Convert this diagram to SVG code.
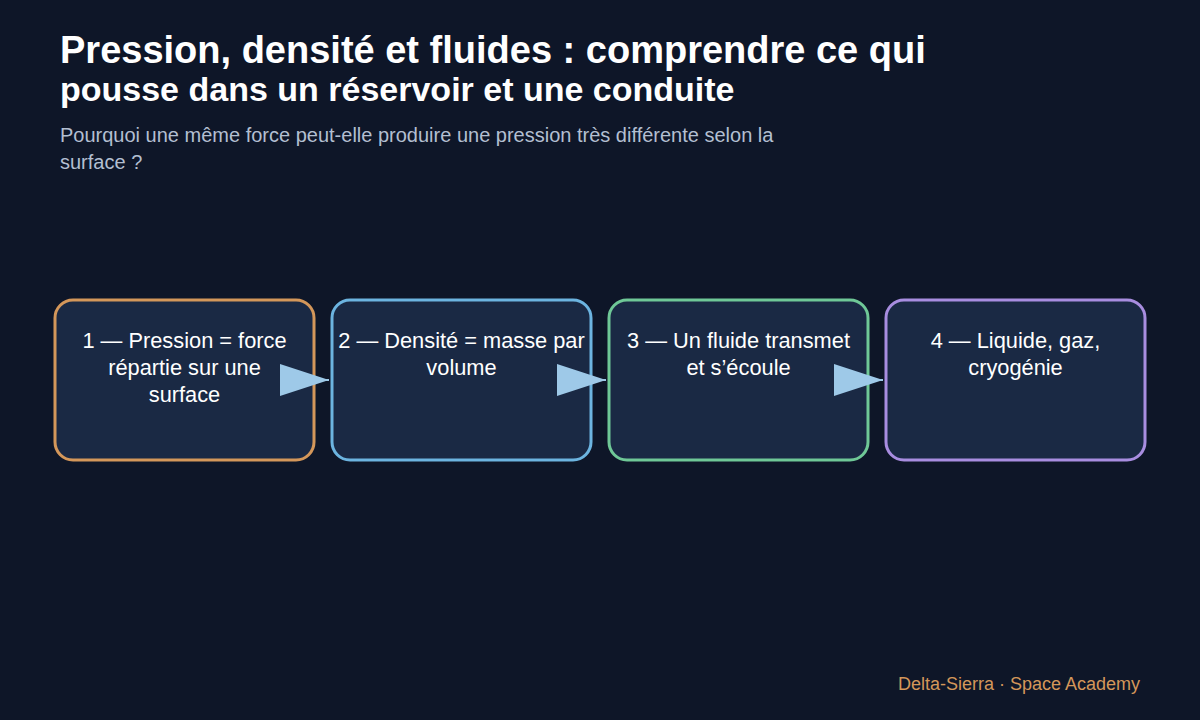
<svg xmlns="http://www.w3.org/2000/svg" width="1200" height="720" viewBox="0 0 1200 720">
<style>
.title{font-family:"Liberation Sans",Arial,sans-serif;font-weight:bold;fill:#ffffff}
.sub{font-family:"Liberation Sans",Arial,sans-serif;font-size:20px;fill:#b3bfd1}
.box{fill:#1a2944;stroke-width:3}
.lbl{font-family:"Liberation Sans",Arial,sans-serif;font-size:21.8px;fill:#ffffff;text-anchor:middle}
.foot{font-family:"Liberation Sans",Arial,sans-serif;font-size:18px;fill:#d4975a;text-anchor:end}
.conn{stroke:#9ec9e8;stroke-width:2;fill:none}
</style>
<defs>
<marker id="arr" markerUnits="userSpaceOnUse" markerWidth="50" markerHeight="34" refX="49" refY="17" orient="auto" viewBox="0 0 50 34">
<path d="M0 1 L49 17 L0 33 Z" fill="#9ec9e8"/>
</marker>
</defs>
<rect width="1200" height="720" fill="#0e1628"/>
<text class="title" x="60" y="63" font-size="38">Pression, densité et fluides : comprendre ce qui</text>
<text class="title" x="60" y="101" font-size="34">pousse dans un réservoir et une conduite</text>
<text class="sub" x="60" y="142">Pourquoi une même force peut-elle produire une pression très différente selon la</text>
<text class="sub" x="60" y="169">surface ?</text>
<g id="n1">
<rect class="box" x="55" y="300" width="259" height="160" rx="18" stroke="#d4975a"/>
<text class="lbl" x="184.5" y="348">1 — Pression = force</text>
<text class="lbl" x="184.5" y="375">répartie sur une</text>
<text class="lbl" x="184.5" y="402">surface</text>
</g>
<g id="n2">
<rect class="box" x="332" y="300" width="259" height="160" rx="18" stroke="#6cb4e0"/>
<text class="lbl" x="461.5" y="348">2 — Densité = masse par</text>
<text class="lbl" x="461.5" y="375">volume</text>
</g>
<g id="n3">
<rect class="box" x="609" y="300" width="259" height="160" rx="18" stroke="#6fc897"/>
<text class="lbl" x="738.5" y="348">3 — Un fluide transmet</text>
<text class="lbl" x="738.5" y="375">et s’écoule</text>
</g>
<g id="n4">
<rect class="box" x="886" y="300" width="259" height="160" rx="18" stroke="#a88de0"/>
<text class="lbl" x="1015.5" y="348">4 — Liquide, gaz,</text>
<text class="lbl" x="1015.5" y="375">cryogénie</text>
</g>
<g id="connectors">
<line class="conn" x1="314" y1="380" x2="329" y2="380" marker-end="url(#arr)"/>
<line class="conn" x1="591" y1="380" x2="606" y2="380" marker-end="url(#arr)"/>
<line class="conn" x1="868" y1="380" x2="883" y2="380" marker-end="url(#arr)"/>
</g>
<text class="foot" x="1140" y="690">Delta-Sierra · Space Academy</text>
</svg>
